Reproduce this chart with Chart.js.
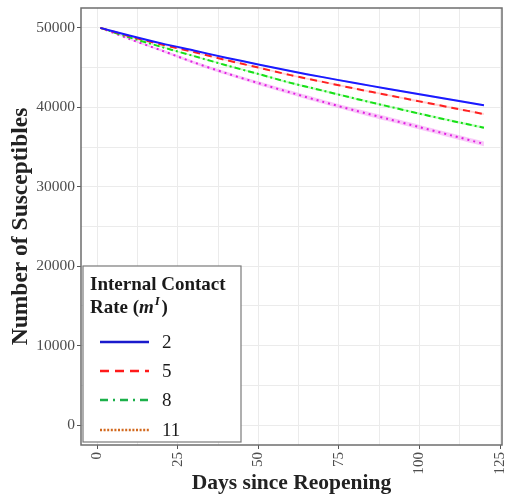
<!DOCTYPE html>
<html>
<head>
<meta charset="utf-8">
<script src="https://cdn.jsdelivr.net/npm/chart.js@4"></script>
<style>
  html, body { margin: 0; padding: 0; background: #fff; }
  #wrap { width: 505px; height: 504px; position: relative; }
</style>
</head>
<body>
<div id="wrap"><canvas id="c" width="505" height="504"></canvas></div>
<script>
// Days since reopening
const days = [1, 10, 20, 30, 40, 50, 60, 70, 80, 90, 100, 110, 120];

// Susceptibles for each internal contact rate m^I
const rate2  = [50000, 49050, 48050, 47150, 46250, 45400, 44560, 43800, 43050, 42350, 41650, 40950, 40250];
const rate5  = [50000, 48950, 47900, 46950, 45950, 45000, 44050, 43200, 42350, 41550, 40750, 39950, 39150];
const rate8  = [50000, 48800, 47600, 46450, 45300, 44200, 43080, 42100, 41100, 40150, 39200, 38300, 37430];
const rate11 = [50000, 48600, 47150, 45650, 44300, 43050, 41860, 40700, 39600, 38550, 37500, 36450, 35400];

// Half-width of the uncertainty ribbon around each curve
const band2  = [0, 40, 60, 70, 80, 90, 100, 100, 110, 110, 120, 120, 120];
const band5  = [0, 50, 70, 80, 90, 100, 110, 110, 120, 120, 130, 130, 130];
const band8  = [0, 60, 80, 100, 110, 120, 130, 140, 140, 150, 150, 160, 160];
const band11 = [0, 100, 150, 190, 210, 230, 250, 260, 270, 280, 290, 300, 300];

const seriesLabels = ['2', '5', '8', '11'];
const xTicks = [0, 25, 50, 75, 100, 125];
const yTicks = [0, 10000, 20000, 30000, 40000, 50000];

const serif = '"Liberation Serif", "DejaVu Serif", serif';

const series = [
  { label: '2',  data: rate2,  band: band2,  color: '#1a1aff', fill: 'rgba(120,120,255,0.30)', dash: [],            key: '#1a1acc', keyDash: [] },
  { label: '5',  data: rate5,  band: band5,  color: '#ff2020', fill: 'rgba(255,120,120,0.30)', dash: [7, 5],        key: '#ff1a1a', keyDash: [9, 6] },
  { label: '8',  data: rate8,  band: band8,  color: '#16e016', fill: 'rgba(110,240,110,0.35)', dash: [6, 3, 2, 3],  key: '#1bb04a', keyDash: [8, 5, 2, 5] },
  { label: '11', data: rate11, band: band11, color: '#e020e0', fill: 'rgba(240,120,240,0.40)', dash: [2, 4],        key: '#d2691e', keyDash: [2, 1.6] }
];

const pts = (vals) => days.map((d, i) => ({ x: d, y: vals[i] }));

const datasets = [];
series.forEach((s) => {
  datasets.push({
    label: s.label,
    data: pts(s.data),
    borderColor: s.color,
    borderWidth: 2,
    borderDash: s.dash,
    pointRadius: 0,
    tension: 0.3,
    fill: false,
    order: 0
  });
});
series.forEach((s) => {
  const upperIdx = datasets.length;
  datasets.push({
    label: s.label + ' upper',
    data: pts(s.data.map((v, i) => v + s.band[i])),
    borderWidth: 0,
    borderColor: 'rgba(0,0,0,0)',
    pointRadius: 0,
    tension: 0.3,
    fill: false,
    order: 2
  });
  datasets.push({
    label: s.label + ' lower',
    data: pts(s.data.map((v, i) => v - s.band[i])),
    borderWidth: 0,
    borderColor: 'rgba(0,0,0,0)',
    backgroundColor: s.fill,
    pointRadius: 0,
    tension: 0.3,
    fill: upperIdx,
    order: 1
  });
});

// Panel border plus the boxed legend with a formatted title
const panelAndLegend = {
  id: 'panelAndLegend',
  afterDatasetsDraw(chart) {
    const ctx = chart.ctx;
    const a = chart.chartArea;
    ctx.save();
    ctx.strokeStyle = '#6e6e6e';
    ctx.lineWidth = 1.5;
    ctx.strokeRect(a.left, a.top, a.right - a.left, a.bottom - a.top);

    // legend box
    const bx = 83, by = 266, bw = 158, bh = 176;
    ctx.fillStyle = '#ffffff';
    ctx.fillRect(bx, by, bw, bh);
    ctx.strokeStyle = '#7a7a7a';
    ctx.lineWidth = 1.2;
    ctx.strokeRect(bx, by, bw, bh);

    ctx.fillStyle = '#1a1a1a';
    ctx.textBaseline = 'alphabetic';
    ctx.textAlign = 'left';
    ctx.font = 'bold 19px ' + serif;
    ctx.fillText('Internal Contact', 90, 290);
    let x = 90;
    const y2 = 313;
    ctx.fillText('Rate (', x, y2);
    x += ctx.measureText('Rate (').width;
    ctx.font = 'italic bold 19px ' + serif;
    ctx.fillText('m', x, y2);
    x += ctx.measureText('m').width + 1;
    ctx.font = 'italic bold 13px ' + serif;
    ctx.fillText('I', x, y2 - 8);
    x += ctx.measureText('I').width + 1.5;
    ctx.font = 'bold 19px ' + serif;
    ctx.fillText(')', x, y2);

    const rows = [342, 371, 400, 430];
    series.forEach((s, i) => {
      const y = rows[i];
      ctx.beginPath();
      ctx.strokeStyle = s.key;
      ctx.lineWidth = 2.4;
      ctx.setLineDash(s.keyDash);
      ctx.moveTo(100, y);
      ctx.lineTo(149, y);
      ctx.stroke();
      ctx.setLineDash([]);
      ctx.fillStyle = '#1a1a1a';
      ctx.font = '19px ' + serif;
      ctx.textBaseline = 'middle';
      ctx.fillText(seriesLabels[i], 162, y + 1);
    });
    ctx.restore();
  }
};

const isMajor = (v, list) => list.includes(v);

new Chart(document.getElementById('c'), {
  type: 'line',
  data: { datasets },
  plugins: [panelAndLegend],
  options: {
    responsive: false,
    animation: false,
    devicePixelRatio: 1,
    layout: { padding: { top: 8, right: 3, left: 0, bottom: 0 } },
    plugins: { legend: { display: false }, tooltip: { enabled: false } },
    scales: {
      x: {
        type: 'linear',
        min: -5,
        max: 125.6,
        afterBuildTicks: (s) => { s.ticks = [0, 12.5, 25, 37.5, 50, 62.5, 75, 87.5, 100, 112.5, 125].map(v => ({ value: v })); },
        afterFit: (s) => { s.height = 59; s.paddingLeft = 0; s.paddingRight = 0; },
        border: { display: false },
        grid: {
          color: '#ebebeb',
          lineWidth: 1,
          tickLength: 4,
          tickColor: (c) => isMajor(c.tick.value, xTicks) ? '#555' : 'rgba(0,0,0,0)'
        },
        ticks: {
          autoSkip: false,
          maxRotation: 90,
          minRotation: 90,
          padding: 3,
          color: '#4d4d4d',
          font: { family: serif, size: 15 },
          callback: (v) => isMajor(v, xTicks) ? String(v) : ''
        },
        title: {
          display: true,
          text: 'Days since Reopening',
          color: '#222',
          font: { family: serif, size: 21.5, weight: 'bold' },
          padding: { top: 0, bottom: 8 }
        }
      },
      y: {
        type: 'linear',
        min: -2500,
        max: 52500,
        afterBuildTicks: (s) => { s.ticks = [0, 5000, 10000, 15000, 20000, 25000, 30000, 35000, 40000, 45000, 50000].map(v => ({ value: v })); },
        afterFit: (s) => { s.width = 81; s.paddingTop = 0; s.paddingBottom = 0; },
        border: { display: false },
        grid: {
          color: '#ebebeb',
          lineWidth: 1,
          tickLength: 4,
          tickColor: (c) => isMajor(c.tick.value, yTicks) ? '#555' : 'rgba(0,0,0,0)'
        },
        ticks: {
          autoSkip: false,
          padding: 2,
          color: '#4d4d4d',
          font: { family: serif, size: 15.5 },
          callback: (v) => isMajor(v, yTicks) ? String(v) : ''
        },
        title: {
          display: true,
          text: 'Number of Susceptibles',
          color: '#222',
          font: { family: serif, size: 23.5, weight: 'bold' },
          padding: { top: 7, bottom: 0 }
        }
      }
    }
  }
});
</script>
</body>
</html>
